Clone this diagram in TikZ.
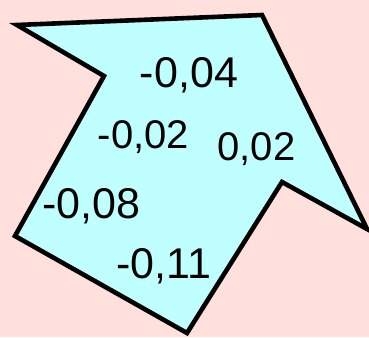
\documentclass[tikz,border=0pt]{standalone}
\usepackage{fontspec}
\setmainfont{Liberation Sans}
\definecolor{bgpink}{HTML}{FFE0DC}
\definecolor{fillcyan}{HTML}{C0FFFF}
\begin{document}
\begin{tikzpicture}[x=1pt,y=-1pt,
  val/.style={anchor=base,inner sep=0pt,font=\fontsize{43}{43}\selectfont},
  valsm/.style={val,font=\fontsize{40}{40}\selectfont}]
\fill[bgpink] (0,0) rectangle (369,337);
\useasboundingbox (0,0) rectangle (369,337);
\draw[line width=4.6pt,fill=fillcyan,line join=miter]
  (17,25) -- (262,15) -- (367,229) -- (282,182) -- (187,333)
  -- (15,236) -- (104,76) -- cycle;
\node[val] (a) at (189,87) {-0,04};
\node[valsm] (b) at (143.5,148) {-0,02};
\node[valsm] (c) at (256.5,160) {0,02};
\node[val] (d) at (91.5,218.5) {-0,08};
\node[val] (e) at (164,278) {-0,11};
\end{tikzpicture}
\end{document}
